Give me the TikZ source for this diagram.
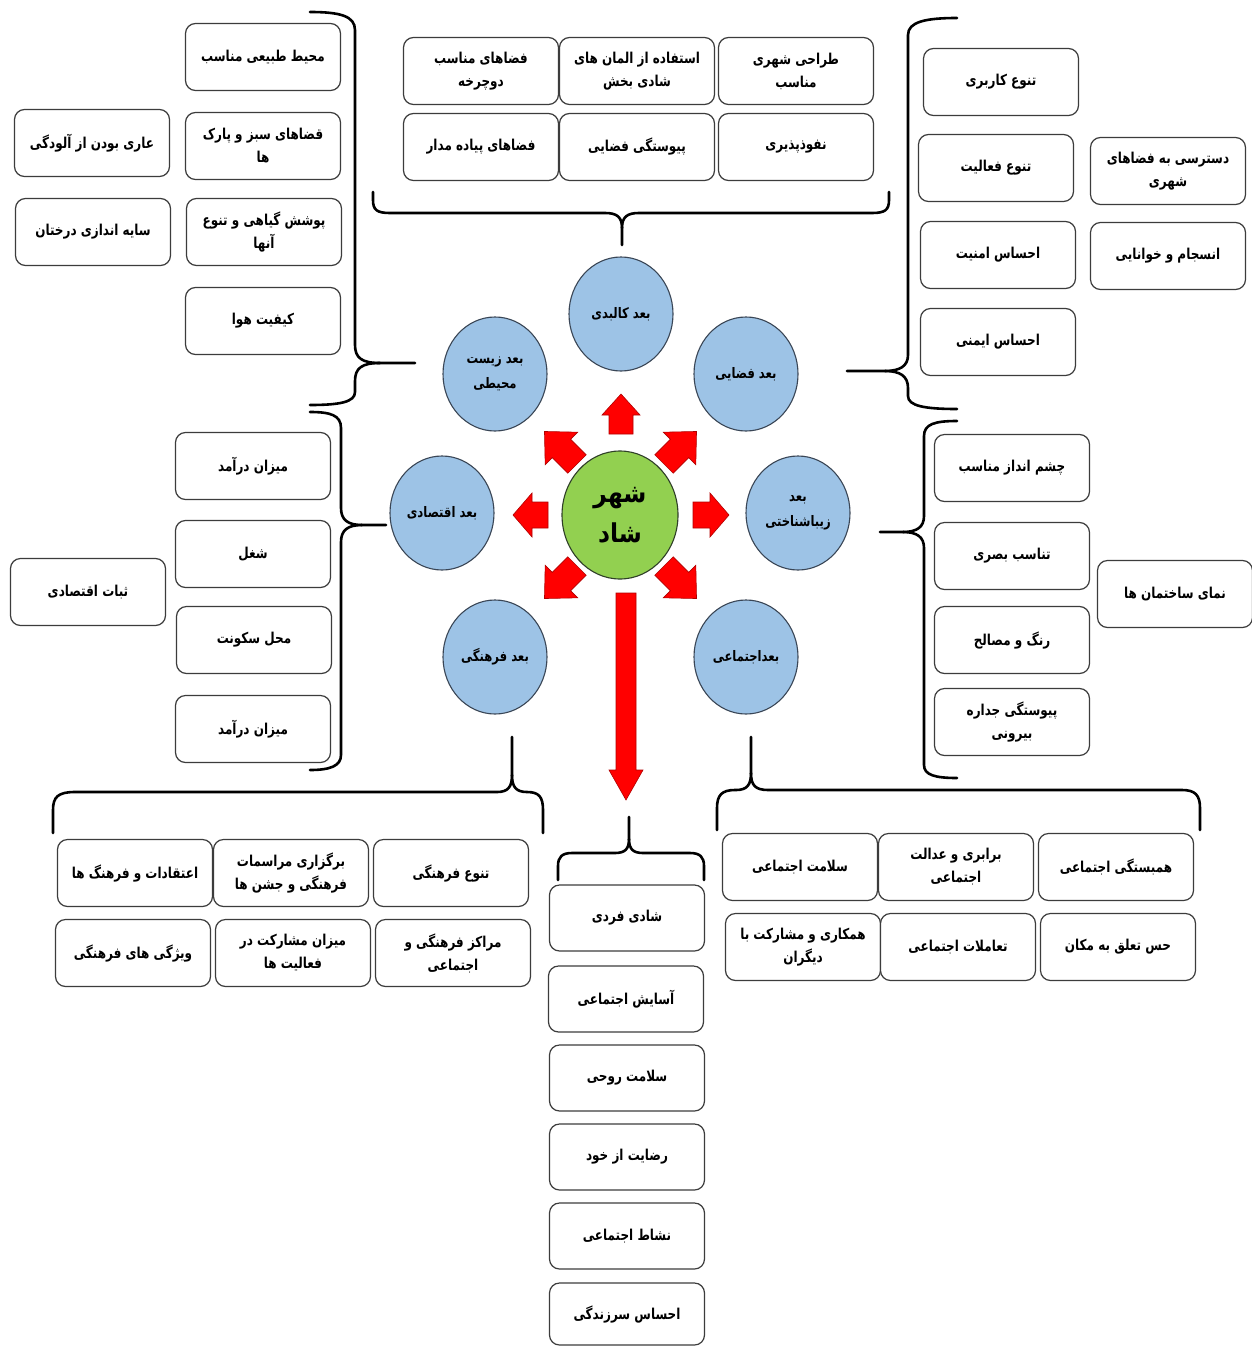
\documentclass[tikz,border=0pt]{standalone}
\usepackage{fontspec}
\usetikzlibrary{shapes.geometric}
\TeXXeTstate=1
\newfontfamily\fafont[Script=Arabic,FakeStretch=0.8]{DejaVu Sans}
\newfontfamily\fahub[Script=Arabic,FakeStretch=0.9]{DejaVu Sans}
\newcommand\fa[1]{\beginR #1\endR}
\definecolor{boxline}{HTML}{3C3C3C}
\definecolor{blueF}{HTML}{9DC3E6}
\definecolor{blueD}{HTML}{3A4656}
\definecolor{greenF}{HTML}{92D050}
\definecolor{greenD}{HTML}{2F3F28}
\definecolor{redF}{HTML}{FF0000}
\definecolor{redD}{HTML}{B00000}
\tikzset{
  box/.style={draw=boxline, line width=1.2pt, rounded corners=10pt, fill=white,
    minimum width=155pt, minimum height=67pt, inner sep=0pt, align=center,
    font=\fafont\bfseries\fontsize{15}{23}\selectfont},
  dim/.style={ellipse, draw=blueD, line width=1.1pt, fill=blueF,
    minimum width=104pt, minimum height=114pt, inner sep=0pt, align=center,
    font=\fafont\bfseries\fontsize{14.5}{25}\selectfont},
  hub/.style={ellipse, draw=greenD, line width=1.1pt, fill=greenF,
    minimum width=116pt, minimum height=128pt, inner sep=0pt, align=center,
    font=\fahub\bfseries\fontsize{26}{40}\selectfont},
  bracestyle/.style={draw=black, line width=2.6pt, line cap=round},
  arrowst/.style={fill=redF, draw=redD, line width=0.6pt, line join=miter},
}
% #1 x, #2 y (base centre), #3 angle, #4 length, #5 head length, #6 half shaft, #7 half head
\newcommand\redarrow[7]{%
  \draw[arrowst, shift={(#1,#2)}, rotate=#3]
    (0,-#6) -- ({#4-#5},-#6) -- ({#4-#5},-#7) -- (#4,0) -- ({#4-#5},#7)
    -- ({#4-#5},#6) -- (0,#6) -- cycle;}
\begin{document}
\begin{tikzpicture}[x=1pt,y=-1pt]
\useasboundingbox (0,0) rectangle (1252,1347);
\fill[white] (0,0) rectangle (1252,1347);

% ---------- environment group ----------
\node[box] (b1) at (263,57)  {\fa{محیط طبیعی مناسب}};
\node[box] (b2) at (263,146) {\fa{قضاهای سبز و پارک}\\\fa{ها}};
\node[box] (b3) at (264,232) {\fa{پوشش گیاهی و تنوع}\\\fa{آنها}};
\node[box] (b4) at (263,321) {\fa{کیفیت هوا}};
\node[box] (b5) at (92,143)  {\fa{عاری بودن از آلودگی}};
\node[box] (b6) at (93,232)  {\fa{سایه اندازی درختان}};

% ---------- physical group ----------
\node[box] (p1) at (481,71)  {\fa{فضاهای مناسب}\\\fa{دوچرخه}};
\node[box] (p2) at (637,71)  {\fa{استفاده از المان های}\\\fa{شادی بخش}};
\node[box] (p3) at (796,71)  {\fa{طراحی شهری}\\\fa{مناسب}};
\node[box] (p4) at (481,147) {\fa{فضاهای پیاده مدار}};
\node[box] (p5) at (637,147) {\fa{پیوستگی فضایی}};
\node[box] (p6) at (796,147) {\fa{نفوذپذیری}};

% ---------- spatial group ----------
\node[box] (s1) at (1001,82)  {\fa{تنوع کاربری}};
\node[box] (s2) at (996,168)  {\fa{تنوع فعالیت}};
\node[box] (s3) at (998,255)  {\fa{احساس امنیت}};
\node[box] (s4) at (998,342)  {\fa{احساس ایمنی}};
\node[box] (s5) at (1168,171) {\fa{دسترسی به فضاهای}\\\fa{شهری}};
\node[box] (s6) at (1168,256) {\fa{انسجام و خوانایی}};

% ---------- aesthetic group ----------
\node[box] (a1) at (1012,468) {\fa{چشم انداز مناسب}};
\node[box] (a2) at (1012,556) {\fa{تناسب بصری}};
\node[box] (a3) at (1012,640) {\fa{رنگ و مصالح}};
\node[box] (a4) at (1012,722) {\fa{پیوستگی جداره}\\\fa{بیرونی}};
\node[box] (a5) at (1175,594) {\fa{نمای ساختمان ها}};

% ---------- economic group ----------
\node[box] (e1) at (253,466) {\fa{میزان درآمد}};
\node[box] (e2) at (253,554) {\fa{شغل}};
\node[box] (e3) at (254,640) {\fa{محل سکونت}};
\node[box] (e4) at (253,729) {\fa{میزان درآمد}};
\node[box] (e5) at (88,592)  {\fa{ثبات اقتصادی}};

% ---------- cultural group ----------
\node[box] (c1) at (135,873) {\fa{اعتقادات و فرهنگ ها}};
\node[box] (c2) at (291,873) {\fa{برگزاری مراسمات}\\\fa{فرهنگی و جشن ها}};
\node[box] (c3) at (451,873) {\fa{تنوع فرهنگی}};
\node[box] (c4) at (133,953) {\fa{ویژگی های فرهنگی}};
\node[box] (c5) at (293,953) {\fa{میزان مشارکت در}\\\fa{فعالیت ها}};
\node[box] (c6) at (453,953) {\fa{مراکز فرهنگی و}\\\fa{اجتماعی}};

% ---------- social group ----------
\node[box] (o1) at (800,867)  {\fa{سلامت اجتماعی}};
\node[box] (o2) at (956,867)  {\fa{برابری و عدالت}\\\fa{اجتماعی}};
\node[box] (o3) at (1116,867) {\fa{همبستگی اجتماعی}};
\node[box] (o4) at (803,947)  {\fa{همکاری و مشارکت با}\\\fa{دیگران}};
\node[box] (o5) at (958,947)  {\fa{تعاملات اجتماعی}};
\node[box] (o6) at (1118,947) {\fa{حس تعلق به مکان}};

% ---------- individual group ----------
\node[box, minimum height=66pt] (i1) at (627,918)  {\fa{شادی فردی}};
\node[box, minimum height=66pt] (i2) at (626,999)  {\fa{آسایش اجتماعی}};
\node[box, minimum height=66pt] (i3) at (627,1078) {\fa{سلامت روحی}};
\node[box, minimum height=66pt] (i4) at (627,1157) {\fa{رضایت از خود}};
\node[box, minimum height=66pt] (i5) at (627,1236) {\fa{نشاط اجتماعی}};
\node[box, minimum height=62pt] (i6) at (627,1314) {\fa{احساس سرزندگی}};

% ---------- dimension circles ----------
\node[dim] (ck) at (621,314) {\fa{بعد کالبدی}};
\node[dim] (cz) at (495,374) {\fa{بعد زیست}\\\fa{محیطی}};
\node[dim] (cf) at (746,374) {\fa{بعد فضایی}};
\node[dim] (ce) at (442,513) {\fa{بعد اقتصادی}};
\node[dim] (ca) at (798,513) {\fa{بعد}\\\fa{زیباشناختی}};
\node[dim] (cc) at (495,657) {\fa{بعد فرهنگی}};
\node[dim] (cs) at (746,657) {\fa{بعداجتماعی}};
\node[hub] (hub) at (620,515) {\fa{شهر}\\\fa{شاد}};

% ---------- red arrows ----------
\redarrow{621}{434}{90}{40}{21}{12}{19}
\redarrow{548}{515}{180}{35}{19}{13}{22}
\redarrow{693}{515}{0}{36}{19}{13}{22}
\redarrow{577}{464}{135}{46}{24}{13}{23}
\redarrow{664}{464}{45}{46}{24}{13}{23}
\redarrow{577}{566}{225}{46}{24}{13}{23}
\redarrow{664}{566}{-45}{46}{24}{13}{23}
\redarrow{626}{593}{-90}{207}{30}{10}{17}

% ---------- braces ----------
% environment (tip right)
\coordinate (envtip) at (415,363);
\draw[bracestyle] (310,12) .. controls (340,12) and (355,16) .. (355,30) -- (355,345)
  .. controls (355,358) and (362,363) .. (380,363) -- (envtip);
\draw[bracestyle] (380,363) .. controls (362,363) and (355,368) .. (355,381) -- (355,392)
  .. controls (355,402) and (340,405) .. (310,405);
% economic (tip right)
\coordinate (ecotip) at (386,525);
\draw[bracestyle] (310,412) .. controls (330,412) and (341,415) .. (341,428) -- (341,508)
  .. controls (341,520) and (348,525) .. (362,525) -- (ecotip);
\draw[bracestyle] (362,525) .. controls (348,525) and (341,530) .. (341,542) -- (341,755)
  .. controls (341,766) and (330,770) .. (310,770);
% physical (tip down)
\coordinate (phytip) at (622,245);
\draw[bracestyle] (373,192) -- (373,200) .. controls (373,210) and (377,213) .. (390,213)
  -- (605,213) .. controls (617,213) and (622,217) .. (622,228) -- (phytip);
\draw[bracestyle] (622,228) .. controls (622,217) and (627,213) .. (639,213) -- (872,213)
  .. controls (885,213) and (889,210) .. (889,200) -- (889,192);
% spatial (tip left)
\coordinate (spatip) at (847,371);
\draw[bracestyle] (957,18) .. controls (925,18) and (908,22) .. (908,35) -- (908,355)
  .. controls (908,366) and (900,371) .. (885,371) -- (spatip);
\draw[bracestyle] (885,371) .. controls (900,371) and (908,376) .. (908,388) -- (908,396)
  .. controls (908,406) and (925,409) .. (957,409);
% aesthetic (tip left)
\coordinate (aestip) at (880,532);
\draw[bracestyle] (957,421) .. controls (935,421) and (924,424) .. (924,436) -- (924,516)
  .. controls (924,527) and (917,532) .. (903,532) -- (aestip);
\draw[bracestyle] (903,532) .. controls (917,532) and (924,537) .. (924,548) -- (924,765)
  .. controls (924,775) and (935,778) .. (957,778);
% cultural (tip up)
\coordinate (cultip) at (512,737);
\draw[bracestyle] (53,833) -- (53,810) .. controls (53,797) and (58,792) .. (75,792)
  -- (497,792) .. controls (508,792) and (512,787) .. (512,775) -- (cultip);
\draw[bracestyle] (512,775) .. controls (512,787) and (516,792) .. (527,792)
  .. controls (539,792) and (543,797) .. (543,810) -- (543,833);
% social (tip up)
\coordinate (soctip) at (751,737);
\draw[bracestyle] (717,830) -- (717,808) .. controls (717,795) and (722,790) .. (735,790)
  -- (736,790) .. controls (747,790) and (751,785) .. (751,773) -- (soctip);
\draw[bracestyle] (751,773) .. controls (751,785) and (755,790) .. (768,790) -- (1182,790)
  .. controls (1195,790) and (1200,795) .. (1200,808) -- (1200,830);
% individual (tip up)
\coordinate (indtip) at (629,817);
\draw[bracestyle] (558,880) -- (558,866) .. controls (558,857) and (562,853) .. (572,853)
  -- (615,853) .. controls (625,853) and (629,849) .. (629,839) -- (indtip);
\draw[bracestyle] (629,839) .. controls (629,849) and (633,853) .. (643,853) -- (690,853)
  .. controls (700,853) and (704,857) .. (704,866) -- (704,880);
\end{tikzpicture}
\end{document}
